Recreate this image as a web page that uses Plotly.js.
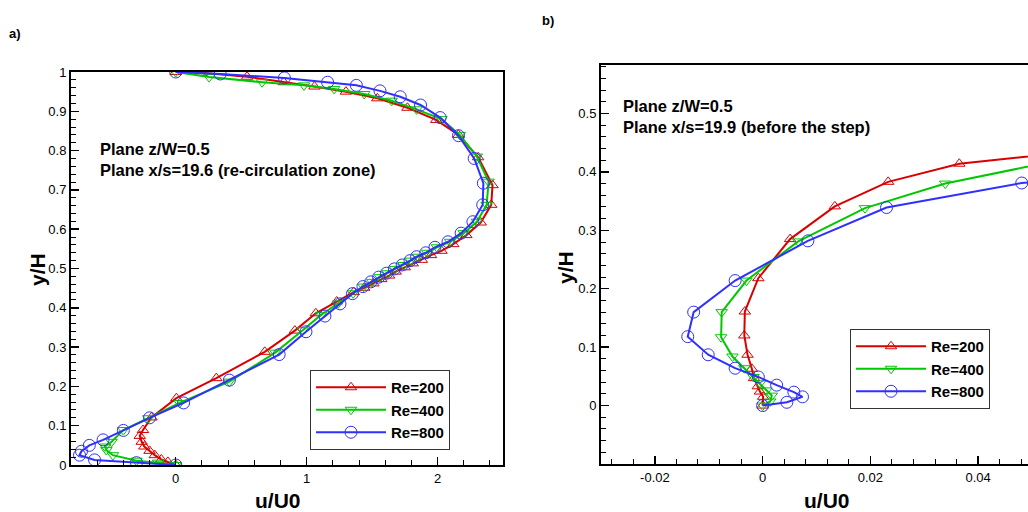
<!DOCTYPE html>
<html>
<head>
<meta charset="utf-8">
<script src="https://cdn.plot.ly/plotly-3.0.1.min.js"></script>
<style>
html,body{margin:0;padding:0;overflow:hidden;background:#fff;width:1028px;height:512px;}
#chart{width:1040px;height:512px;}
</style>
</head>
<body>
<div id="chart"></div>
<script>
// ---------- Panel a) : Plane x/s=19.6 ----------
const a_re200_u = [0, -0.06, -0.11, -0.16, -0.20, -0.24, -0.26, -0.275, -0.25, -0.185, 0.005, 0.31, 0.68, 0.91, 1.07, 1.23, 1.36, 1.44, 1.51, 1.57, 1.63, 1.68, 1.75, 1.81, 1.88, 1.95, 2.03, 2.12, 2.22, 2.33, 2.41, 2.42, 2.31, 2.16, 1.99, 1.77, 1.54, 1.30, 1.06, 0.825, 0.545, 0.20, 0];
const a_re200_y = [0, 0.008, 0.014, 0.025, 0.036, 0.047, 0.059, 0.074, 0.089, 0.121, 0.170, 0.221, 0.288, 0.342, 0.386, 0.416, 0.440, 0.451, 0.462, 0.473, 0.482, 0.492, 0.503, 0.513, 0.522, 0.534, 0.545, 0.562, 0.585, 0.617, 0.662, 0.712, 0.783, 0.840, 0.878, 0.909, 0.933, 0.950, 0.963, 0.974, 0.988, 0.998, 1.0];

const a_re400_u = [0, -0.135, -0.30, -0.48, -0.53, -0.54, -0.49, -0.40, -0.21, 0.03, 0.41, 0.76, 0.97, 1.11, 1.24, 1.355, 1.435, 1.50, 1.56, 1.62, 1.675, 1.74, 1.795, 1.85, 1.92, 1.995, 2.095, 2.20, 2.30, 2.375, 2.39, 2.30, 2.17, 2.03, 1.84, 1.65, 1.44, 1.21, 0.98, 0.66, 0.255, 0];
const a_re400_y = [0, 0.006, 0.011, 0.025, 0.038, 0.047, 0.059, 0.089, 0.119, 0.158, 0.212, 0.286, 0.343, 0.382, 0.411, 0.437, 0.454, 0.466, 0.478, 0.488, 0.499, 0.509, 0.520, 0.530, 0.540, 0.554, 0.568, 0.590, 0.619, 0.662, 0.721, 0.785, 0.840, 0.880, 0.905, 0.927, 0.944, 0.957, 0.966, 0.974, 0.987, 1.0];

const a_re800_u = [0, -0.30, -0.62, -0.735, -0.72, -0.66, -0.555, -0.40, -0.20, 0.06, 0.41, 0.79, 0.995, 1.14, 1.255, 1.35, 1.43, 1.49, 1.55, 1.61, 1.67, 1.73, 1.79, 1.84, 1.91, 1.98, 2.08, 2.18, 2.27, 2.345, 2.35, 2.28, 2.16, 2.02, 1.87, 1.715, 1.56, 1.38, 1.16, 0.83, 0.34, 0];
const a_re800_y = [0, 0.006, 0.013, 0.025, 0.035, 0.050, 0.064, 0.088, 0.120, 0.158, 0.216, 0.281, 0.339, 0.379, 0.410, 0.436, 0.454, 0.466, 0.478, 0.488, 0.499, 0.509, 0.520, 0.530, 0.540, 0.554, 0.568, 0.590, 0.619, 0.662, 0.717, 0.780, 0.838, 0.884, 0.916, 0.937, 0.952, 0.966, 0.974, 0.985, 0.995, 1.0];

// ---------- Panel b) : Plane x/s=19.9 (before the step) ----------
const b_re200_u = [0, 0.0001, -0.0005, -0.0009, -0.0016, -0.0020, -0.0028, -0.0034, -0.0033, -0.0008, 0.0051, 0.0134, 0.0233, 0.0365, 0.055];
const b_re200_y = [0, 0.015, 0.024, 0.033, 0.047, 0.063, 0.087, 0.120, 0.161, 0.218, 0.285, 0.341, 0.383, 0.414, 0.432];

const b_re400_u = [0, 0.0014, 0.0017, 0.0007, -0.0005, -0.0017, -0.0034, -0.0056, -0.0077, -0.0076, -0.0030, 0.0066, 0.0190, 0.0339, 0.055];
const b_re400_y = [0, 0.007, 0.017, 0.026, 0.038, 0.049, 0.064, 0.084, 0.117, 0.160, 0.214, 0.281, 0.338, 0.380, 0.420];

const b_re800_u = [0, 0.0045, 0.0074, 0.0058, 0.0026, -0.0008, -0.0051, -0.0101, -0.0139, -0.0128, -0.0051, 0.0084, 0.0230, 0.0481, 0.055];
const b_re800_y = [0, 0.0056, 0.015, 0.023, 0.035, 0.049, 0.064, 0.087, 0.118, 0.160, 0.214, 0.282, 0.339, 0.381, 0.386];

const seriesNames = ['Re=200', 'Re=400', 'Re=800'];
const seriesColors = ['#d80000', '#00c800', '#2f2fff'];
const seriesSymbols = ['triangle-up-open', 'triangle-down-open', 'circle-open'];
const seriesSizes = [10, 10, 12];

const a_xTickVals = [0, 1, 2];
const a_xTickText = ['0', '1', '2'];
const b_xTickVals = [-0.02, 0, 0.02, 0.04];
const b_xTickText = ['-0.02', '0', '0.02', '0.04'];
const b_yTickVals = [0, 0.1, 0.2, 0.3, 0.4, 0.5];
const b_yTickText = ['0', '0.1', '0.2', '0.3', '0.4', '0.5'];

const W = 1040, H = 512;
const px = v => v / W;
const py = v => 1 - v / H;

const aU = [a_re200_u, a_re400_u, a_re800_u];
const aY = [a_re200_y, a_re400_y, a_re800_y];
const bU = [b_re200_u, b_re400_u, b_re800_u];
const bY = [b_re200_y, b_re400_y, b_re800_y];

const traces = [];
for (let i = 0; i < 3; i++) {
  traces.push({
    x: aU[i], y: aY[i], xaxis: 'x', yaxis: 'y', type: 'scatter', mode: 'lines+markers',
    name: seriesNames[i], legend: 'legend',
    line: {color: seriesColors[i], width: 2},
    marker: {symbol: seriesSymbols[i], size: seriesSizes[i], color: seriesColors[i], line: {width: 1, color: seriesColors[i]}},
    cliponaxis: true
  });
}
for (let i = 0; i < 3; i++) {
  traces.push({
    x: bU[i], y: bY[i], xaxis: 'x2', yaxis: 'y2', type: 'scatter', mode: 'lines+markers',
    name: seriesNames[i], legend: 'legend2',
    line: {color: seriesColors[i], width: 2},
    marker: {symbol: seriesSymbols[i], size: seriesSizes[i], color: seriesColors[i], line: {width: 1, color: seriesColors[i]}},
    cliponaxis: true
  });
}

const tickFont = {family: 'Liberation Sans, Arial, sans-serif', size: 13, color: '#000'};
const axisCommon = {
  showgrid: false, zeroline: false, showline: true, linecolor: '#000', linewidth: 2, mirror: true,
  ticks: 'inside', ticklen: 8, tickwidth: 1.5, tickcolor: '#000', tickfont: tickFont
};

const boldFont = (s) => ({family: 'Liberation Sans, Arial, sans-serif', size: s, color: '#000', weight: 'bold'});

const annotations = [
  {text: 'a)', x: px(15), y: py(33), xref: 'paper', yref: 'paper', showarrow: false, font: boldFont(13), xanchor: 'center', yanchor: 'middle'},
  {text: 'b)', x: px(548), y: py(20), xref: 'paper', yref: 'paper', showarrow: false, font: boldFont(13), xanchor: 'center', yanchor: 'middle'},
  {text: 'Plane z/W=0.5<br>Plane x/s=19.6 (re-circulation zone)', x: px(98), y: py(159), xref: 'paper', yref: 'paper', showarrow: false, font: boldFont(16.5), xanchor: 'left', yanchor: 'middle', align: 'left'},
  {text: 'Plane z/W=0.5<br>Plane x/s=19.9 (before the step)', x: px(621), y: py(116), xref: 'paper', yref: 'paper', showarrow: false, font: boldFont(16.5), xanchor: 'left', yanchor: 'middle', align: 'left'},
  {text: 'u/U0', x: px(278), y: py(500), xref: 'paper', yref: 'paper', showarrow: false, font: boldFont(21), xanchor: 'center', yanchor: 'middle'},
  {text: 'u/U0', x: px(827), y: py(500), xref: 'paper', yref: 'paper', showarrow: false, font: boldFont(21), xanchor: 'center', yanchor: 'middle'},
  {text: 'y/H', x: px(37), y: py(270), xref: 'paper', yref: 'paper', showarrow: false, font: boldFont(21), textangle: -90, xanchor: 'center', yanchor: 'middle'},
  {text: 'y/H', x: px(565), y: py(268), xref: 'paper', yref: 'paper', showarrow: false, font: boldFont(21), textangle: -90, xanchor: 'center', yanchor: 'middle'}
];

const legendCommon = {
  bgcolor: '#fff', bordercolor: '#333', borderwidth: 1,
  font: boldFont(15), xanchor: 'left', yanchor: 'top', itemwidth: 70, tracegroupgap: 0
};

const layout = {
  width: W, height: H,
  margin: {l: 0, r: 0, t: 0, b: 0},
  paper_bgcolor: '#fff', plot_bgcolor: '#fff',
  showlegend: true,
  xaxis: Object.assign({}, axisCommon, {
    domain: [px(71), px(503)], range: [-0.8, 2.5], anchor: 'y',
    tickmode: 'array', tickvals: a_xTickVals, ticktext: a_xTickText,
    minor: {tickmode: 'linear', tick0: 0, dtick: 0.2, ticks: 'inside', ticklen: 5, tickwidth: 1, tickcolor: '#000'}
  }),
  yaxis: Object.assign({}, axisCommon, {
    domain: [1 - 465 / H, 1 - 72 / H], range: [0, 1], anchor: 'x',
    tickmode: 'linear', tick0: 0, dtick: 0.1,
    minor: {tickmode: 'linear', tick0: 0, dtick: 0.02, ticks: 'inside', ticklen: 5, tickwidth: 1, tickcolor: '#000'}
  }),
  xaxis2: Object.assign({}, axisCommon, {
    domain: [px(601), px(1032)], range: [-0.03, 0.05], anchor: 'y2',
    tickmode: 'array', tickvals: b_xTickVals, ticktext: b_xTickText,
    minor: {tickmode: 'linear', tick0: 0, dtick: 0.004, ticks: 'inside', ticklen: 5, tickwidth: 1, tickcolor: '#000'}
  }),
  yaxis2: Object.assign({}, axisCommon, {
    domain: [1 - 464 / H, 1 - 65 / H], range: [-0.1, 0.583], anchor: 'x2',
    tickmode: 'array', tickvals: b_yTickVals, ticktext: b_yTickText,
    minor: {tickmode: 'linear', tick0: 0, dtick: 0.02, ticks: 'inside', ticklen: 5, tickwidth: 1, tickcolor: '#000'}
  }),
  legend: Object.assign({}, legendCommon, {x: px(310), y: py(370)}),
  legend2: Object.assign({}, legendCommon, {x: px(850), y: py(329)}),
  annotations: annotations
};

Plotly.newPlot('chart', traces, layout, {displayModeBar: false, staticPlot: true});
</script>
</body>
</html>
